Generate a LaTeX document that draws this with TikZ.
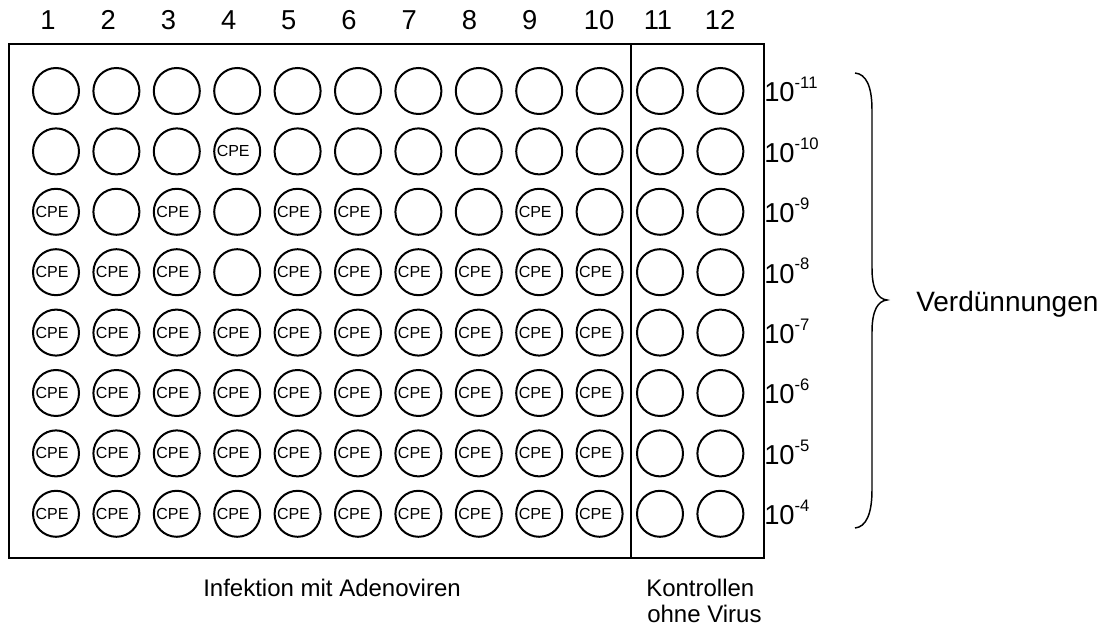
\documentclass[tikz,border=0pt]{standalone}
\usepackage{fontspec}
\setmainfont{Liberation Sans}
\usetikzlibrary{positioning}

\begin{document}
\begin{tikzpicture}[x=0.75pt, y=-0.75pt,
  well/.style={circle, draw, line width=1.5pt, minimum size=34.5pt, inner sep=0pt},
  cpe/.style={font=\fontsize{12}{14}\selectfont, inner sep=0pt, xshift=-3pt},
  biglabel/.style={font=\fontsize{20.5}{24}\selectfont, inner sep=0pt},
  caption/.style={font=\fontsize{18}{22}\selectfont, inner sep=0pt, anchor=base west}]
  \useasboundingbox (0,0) rectangle (1115,630);
  % plate
  \draw[line width=1.5pt] (9,44) rectangle (764,558);
  \coordinate (divtop) at (631,44);
  \coordinate (divbot) at (631,558);
  \draw[line width=1.1pt] (divtop) -- (divbot);
  % wells
  \foreach \r in {1,...,8} {%
    \foreach \c in {1,...,12} {%
      \node[well] (w-\r-\c) at ({56+60.4*(\c-1)},{91+60.4*(\r-1)}) {};
    }
  }
  % wells with CPE
  \foreach \r/\cols in {2/{4}, 3/{1,3,5,6,9}, 4/{1,2,3,5,6,7,8,9,10},
      5/{1,...,10}, 6/{1,...,10}, 7/{1,...,10}, 8/{1,...,10}} {%
    \foreach \c in \cols {%
      \node[cpe] (cpe-\r-\c) at (w-\r-\c) {CPE};
    }
  }
  % column numbers
  \foreach \c/\x in {1/48, 2/108.2, 3/168.4, 4/228.6, 5/288.8, 6/349,
      7/409.2, 8/469.4, 9/529.6, 10/599, 11/658, 12/720} {%
    \node[biglabel, anchor=base] (col-\c) at (\x,30) {\c};
  }
  % dilutions
  \foreach \r/\e in {1/11, 2/10, 3/9, 4/8, 5/7, 6/6, 7/5, 8/4} {%
    \node[biglabel, anchor=base west] (dil-\r) at (764,{102+60.4*(\r-1)})
      {10\raisebox{10pt}{\fontsize{12.5}{14}\selectfont -\e}};
  }
  % brace
  \draw[line width=1.1pt] (855,73) .. controls (866,74) and (872,86) .. (872,110)
    -- (872,268) .. controls (872,290) and (878,299) .. (887,300)
    .. controls (878,301) and (872,310) .. (872,332)
    -- (872,490) .. controls (872,514) and (866,527) .. (855,528);
  \node[font=\fontsize{21}{25}\selectfont, inner sep=0pt, anchor=base west]
    (dilutions) at (916,312) {Verdünnungen};
  % captions
  \node[caption] (infection) at (203,597) {Infektion mit Adenoviren};
  \node[caption] (controls) at (646,597) {Kontrollen};
  \node[caption] (novirus) at (647,623) {ohne Virus};
\end{tikzpicture}
\end{document}
